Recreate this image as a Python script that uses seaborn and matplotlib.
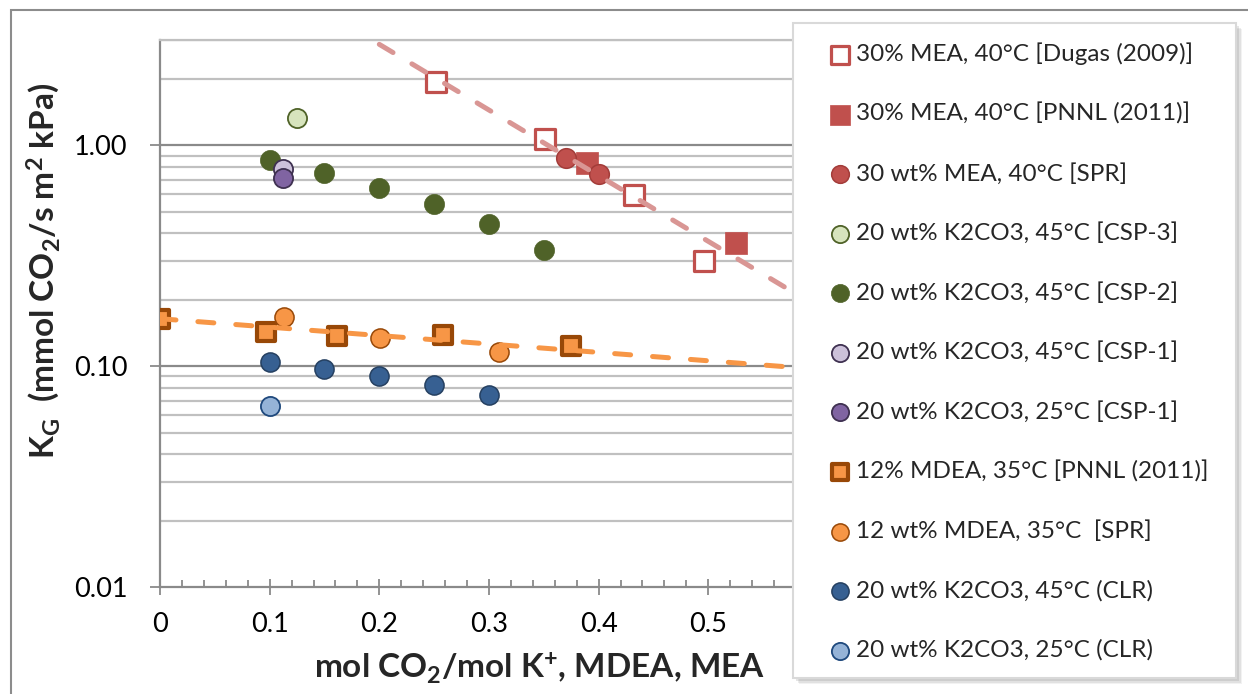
import numpy as np
import pandas as pd
import matplotlib
matplotlib.use("Agg")
import matplotlib.pyplot as plt
import seaborn as sns
from matplotlib.patches import Rectangle
from matplotlib.ticker import FixedLocator, MultipleLocator, NullFormatter, FixedFormatter

# ---- data: K_G vs CO2 loading ----
mea_dugas_x = [0.252, 0.351, 0.432, 0.496]
mea_dugas_y = [1.94, 1.07, 0.594, 0.300]
mea_pnnl_x = [0.389, 0.525]
mea_pnnl_y = [0.832, 0.361]
mea_spr_x = [0.370, 0.400]
mea_spr_y = [0.876, 0.745]
csp3_45_x = [0.125]
csp3_45_y = [1.33]
csp2_45_x = [0.10, 0.15, 0.20, 0.25, 0.30, 0.35]
csp2_45_y = [0.855, 0.749, 0.643, 0.541, 0.440, 0.335]
csp1_45_x = [0.112]
csp1_45_y = [0.784]
csp1_25_x = [0.112]
csp1_25_y = [0.711]
mdea_pnnl_x = [0.0, 0.097, 0.161, 0.258, 0.3745]
mdea_pnnl_y = [0.163, 0.143, 0.137, 0.138, 0.123]
mdea_spr_x = [0.113, 0.2006, 0.309]
mdea_spr_y = [0.167, 0.134, 0.116]
clr45_x = [0.10, 0.15, 0.20, 0.25, 0.30]
clr45_y = [0.105, 0.0976, 0.0901, 0.0821, 0.0745]
clr25_x = [0.10]
clr25_y = [0.0661]

series_labels = [
    "30% MEA, 40°C [Dugas (2009)]",
    "30% MEA, 40°C [PNNL (2011)]",
    "30 wt% MEA, 40°C [SPR]",
    "20 wt% K2CO3, 45°C [CSP-3]",
    "20 wt% K2CO3, 45°C [CSP-2]",
    "20 wt% K2CO3, 45°C [CSP-1]",
    "20 wt% K2CO3, 25°C [CSP-1]",
    "12% MDEA, 35°C [PNNL (2011)]",
    "12 wt% MDEA, 35°C  [SPR]",
    "20 wt% K2CO3, 45°C (CLR)",
    "20 wt% K2CO3, 25°C (CLR)",
]

x_ticks = [0, 0.1, 0.2, 0.3, 0.4, 0.5, 0.6, 0.7]
x_ticklabels = ["0", "0.1", "0.2", "0.3", "0.4", "0.5", "", ""]
y_ticks = [0.01, 0.1, 1.0]
y_ticklabels = ["0.01", "0.10", "1.00"]

# ---- style ----
sns.set_theme(style="white")
FONT = "Lato"
plt.rcParams["font.family"] = [FONT, "DejaVu Sans"]
plt.rcParams["mathtext.fontset"] = "custom"
plt.rcParams["mathtext.rm"] = FONT
plt.rcParams["mathtext.bf"] = FONT + ":bold"
plt.rcParams["mathtext.it"] = FONT + ":italic"

W, H = 1248, 694
fig = plt.figure(figsize=(W / 100, H / 100), dpi=100)
fig.patch.set_facecolor("white")

# axes: x=0 at px 160, 0.1 per 109.65 px; y from 0.01 (px 587) to 3 (px 40)
x0_px, per_unit = 160, 1096.5
xmax = 0.7
left = x0_px / W
right = (x0_px + per_unit * xmax) / W
bottom = 1 - 587.3 / H
top = 1 - 40 / H
ax = fig.add_axes([left, bottom, right - left, top - bottom])

MAJ_GRID = "#8A8A8A"
MIN_GRID = "#C0C0C0"
AXIS_C = "#8A8A8A"

ax.set_yscale("log")
ax.set_ylim(0.01, 3.0)
ax.set_xlim(0, xmax)

# gridlines (horizontal only)
for v in [0.1, 1.0]:
    ax.axhline(v, color=MAJ_GRID, lw=1.6, zorder=0.5)
minor_vals = [m * d for d in (0.01, 0.1, 1.0) for m in range(2, 10) if m * d <= 3.0]
for v in minor_vals:
    ax.axhline(v, color=MIN_GRID, lw=1.6, zorder=0.4)

for s in ["right", "bottom", "left", "top"]:
    ax.spines[s].set_visible(False)
for s in ["left", "bottom", "top"]:
    ax.spines[s].set_visible(True)
    ax.spines[s].set_linewidth(1.6)
ax.spines["left"].set_color(AXIS_C)
ax.spines["bottom"].set_color(AXIS_C)
ax.spines["top"].set_color(MIN_GRID)

ax.yaxis.set_major_locator(FixedLocator(y_ticks))
ax.yaxis.set_major_formatter(FixedFormatter(y_ticklabels))
ax.yaxis.set_minor_locator(FixedLocator([]))
ax.yaxis.set_minor_formatter(NullFormatter())
ax.xaxis.set_major_locator(FixedLocator(x_ticks))
ax.xaxis.set_major_formatter(FixedFormatter(x_ticklabels))
ax.xaxis.set_minor_locator(MultipleLocator(0.02))

ax.tick_params(axis="y", which="major", direction="out", length=7.5, width=1.3,
               color=AXIS_C, pad=16, labelsize=19.5, labelcolor="black", left=True)
ax.tick_params(axis="x", which="major", direction="inout", length=12, width=1.3,
               color=AXIS_C, pad=12, labelsize=19.5, labelcolor="black", bottom=True)
ax.tick_params(axis="x", which="minor", direction="in", length=5, width=1.3,
               color=AXIS_C, bottom=True)

RED = "#C0504D"
RED_EDGE = "#A33C39"
RED_TREND = "#D99694"
ORANGE = "#F79646"
ORANGE_EDGE = "#984807"

specs = [
    (mea_dugas_x, mea_dugas_y, "s", 190, "white", RED, 2.3),
    (mea_pnnl_x, mea_pnnl_y, "s", 260, RED, RED, 0.5),
    (mea_spr_x, mea_spr_y, "o", 200, RED, RED_EDGE, 1.1),
    (csp3_45_x, csp3_45_y, "o", 190, "#D7E4BD", "#4F6228", 1.3),
    (csp2_45_x, csp2_45_y, "o", 210, "#4F6228", "#4F6228", 0.5),
    (csp1_45_x, csp1_45_y, "o", 190, "#CCC1DA", "#3F3151", 1.3),
    (csp1_25_x, csp1_25_y, "o", 190, "#8064A2", "#3F3151", 1.3),
    (mdea_pnnl_x, mdea_pnnl_y, "s", 175, ORANGE, ORANGE_EDGE, 3.0),
    (mdea_spr_x, mdea_spr_y, "o", 190, ORANGE, ORANGE_EDGE, 1.1),
    (clr45_x, clr45_y, "o", 190, "#376092", "#254061", 1.1),
    (clr25_x, clr25_y, "o", 190, "#95B3D7", "#1F497D", 1.3),
]

handles = []
for (xs, ys, mk, size, fc, ec, lw), lab in zip(specs, series_labels):
    df = pd.DataFrame({"x": xs, "y": ys})
    sns.scatterplot(data=df, x="x", y="y", ax=ax, marker=mk, s=size,
                    color=fc, edgecolor=ec, linewidth=lw, zorder=3, legend=False)
    handles.append(ax.collections[-1])

# exponential trendlines fitted to the MEA and MDEA data
def exp_trend(xs, ys, x_lo, x_hi):
    b, a = np.polyfit(np.asarray(xs), np.log(np.asarray(ys)), 1)
    xx = np.linspace(x_lo, x_hi, 100)
    return xx, np.exp(a + b * xx)

mea_all_x = mea_dugas_x + mea_pnnl_x + mea_spr_x
mea_all_y = mea_dugas_y + mea_pnnl_y + mea_spr_y
mdea_all_x = mdea_pnnl_x + mdea_spr_x
mdea_all_y = mdea_pnnl_y + mdea_spr_y

for (xs, ys, lo, hi, col) in [(mea_all_x, mea_all_y, 0.2, 0.575, RED_TREND),
                              (mdea_all_x, mdea_all_y, 0.0, xmax, ORANGE)]:
    tx, ty = exp_trend(xs, ys, lo, hi)
    sns.lineplot(x=tx, y=ty, ax=ax, color=col, lw=3.6, zorder=4,
                 dashes=False, sort=False)
    ax.lines[-1].set_dashes((3.2, 4.4))
    ax.lines[-1].set_dash_capstyle("round")

ax.set_xlabel("")
ax.set_ylabel("")

# axis titles
fig.text(43 / W, 1 - 271 / H,
         r"K$_\mathbf{G}$  (mmol CO$_\mathbf{2}$/s m$^\mathbf{2}$ kPa)",
         rotation=90, ha="center", va="center", fontsize=24, fontweight="bold")
fig.text(540 / W, 1 - 668 / H,
         r"mol CO$_\mathbf{2}$/mol K$^\mathbf{+}$, MDEA, MEA",
         ha="center", va="center", fontsize=24, fontweight="bold")

# legend frame with soft shadow
LX0, LX1, LY0, LY1 = 793, 1236, 23, 678
for off, a in [(6, 0.10), (4.5, 0.15), (3, 0.2)]:
    fig.patches.append(Rectangle(((LX0 + off) / W, 1 - (LY1 + off) / H),
                                 (LX1 - LX0) / W, (LY1 - LY0) / H,
                                 transform=fig.transFigure, facecolor="#808080",
                                 edgecolor="none", alpha=a, zorder=8))
fig.patches.append(Rectangle((LX0 / W, 1 - LY1 / H), (LX1 - LX0) / W,
                             (LY1 - LY0) / H, transform=fig.transFigure,
                             facecolor="white", edgecolor="#D9D9D9", lw=1.5,
                             zorder=9))

LFS = 17.5
fs_px = LFS * 100 / 72
hl = 0.85
leg = fig.legend(handles, series_labels, loc="upper left",
                 bbox_to_anchor=((840 - hl * fs_px / 2) / W, 1 - 42.5 / H),
                 bbox_transform=fig.transFigure,
                 fontsize=LFS, frameon=False,
                 markerscale=0.9, handlelength=hl, handletextpad=0.25,
                 borderpad=0, borderaxespad=0, labelspacing=1.555,
                 scatterpoints=1)
leg.set_zorder(10)

# outer chart border
fig.patches.append(Rectangle((11 / W, -0.2), 1.2, 1.2 - 10 / H,
                             transform=fig.transFigure, fill=False,
                             edgecolor="#8C8C8C", lw=1.5, zorder=0))

fig.savefig("out.png", dpi=100, facecolor="white")
